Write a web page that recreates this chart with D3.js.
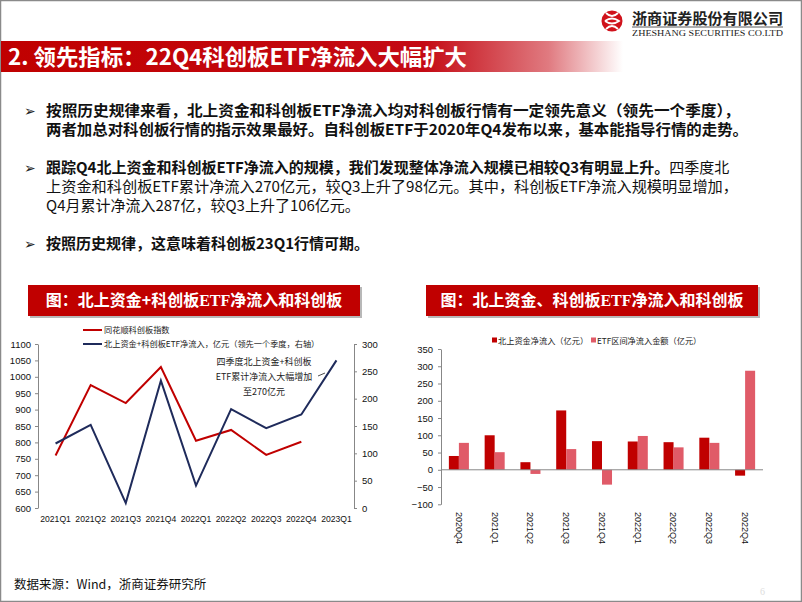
<!DOCTYPE html>
<html><head><meta charset="utf-8">
<script src="https://cdn.jsdelivr.net/npm/d3@7"></script>
<style>body{margin:0;background:#fff} svg{display:block}</style>
</head><body>
<svg id="s" width="802" height="602"></svg>
<script>
// ---------- data ----------
const leftCategories = ["2021Q1","2021Q2","2021Q3","2021Q4","2022Q1","2022Q2","2022Q3","2022Q4","2023Q1"];
const indexValues = [760, 975, 920, 1030, 805, 838, 762, 802];          // 同花顺科创板指数 (left axis)
const flowValues  = [118, 152, 9, 233, 41, 181, 146, 171, 270];         // 北上资金+科创板ETF净流入 (right axis, lead 1Q)
const leftTicks  = [600,650,700,750,800,850,900,950,1000,1050,1100];
const rightTicks = [0,50,100,150,200,250,300];

const barCategories = ["2020Q4","2021Q1","2021Q2","2021Q3","2021Q4","2022Q1","2022Q2","2022Q3","2022Q4"];
const northbound = [40, 100, 22, 172, 83, 82, 80, 93, -17];            // 北上资金净流入（亿元）
const etfFlow    = [78, 51, -12, 60, -43, 98, 65, 78, 287];             // ETF区间净流入金额（亿元）
const barTicks = [-100,-50,0,50,100,150,200,250,300,350];

const CJK = "'Noto Sans CJK SC','Noto Sans',sans-serif";
const ARIAL = "'Liberation Sans',Arial,sans-serif";
const SERIF = "'Liberation Serif','DejaVu Serif',serif";
const RED = "#C00000", NAVY = "#1F2B5B", PINK = "#E05B68", GRAY = "#878787";

const svg = d3.select("#s");

// frame
svg.append("rect").attr("x",0.5).attr("y",0.5).attr("width",801).attr("height",601)
  .attr("fill","#fff").attr("stroke","#8a8a8a").attr("stroke-width",1.5);

// ---------- header ----------
const defs = svg.append("defs");
const g1 = defs.append("linearGradient").attr("id","tbar").attr("x1","0").attr("x2","1").attr("y1","0").attr("y2","0");
g1.append("stop").attr("offset","0%").attr("stop-color","#C00000");
g1.append("stop").attr("offset","68%").attr("stop-color","#C40A14");
g1.append("stop").attr("offset","88%").attr("stop-color","#E07A80");
g1.append("stop").attr("offset","100%").attr("stop-color","#ffffff");
svg.append("rect").attr("x",1).attr("y",41).attr("width",622).attr("height",31).attr("fill","url(#tbar)");
svg.append("text").attr("x",8).attr("y",64.5).attr("fill","#fff")
  .attr("font-family",CJK).attr("font-weight","bold").attr("font-size",22)
  .attr("textLength",459).attr("lengthAdjust","spacingAndGlyphs")
  .text("2. 领先指标：22Q4科创板ETF净流入大幅扩大");

// logo
svg.append("circle").attr("cx",612).attr("cy",21).attr("r",10.5).attr("fill","#D0121B");
svg.append("path").attr("d","M606,13 Q612,19 618,13 M606,29 Q612,23 618,29 M605,21 Q612,16 619,21 Q612,26 605,21")
  .attr("fill","none").attr("stroke","#fff").attr("stroke-width",1.8);
svg.append("text").attr("x",632).attr("y",24).attr("font-family",CJK).attr("font-weight","bold")
  .attr("font-size",15).attr("fill","#222").attr("textLength",151).attr("lengthAdjust","spacingAndGlyphs")
  .text("浙商证券股份有限公司");
svg.append("line").attr("x1",632).attr("x2",783).attr("y1",27).attr("y2",27).attr("stroke","#333").attr("stroke-width",0.8);
svg.append("text").attr("x",632).attr("y",36).attr("font-family",SERIF).attr("font-size",7.5)
  .attr("fill","#222").attr("textLength",151).attr("lengthAdjust","spacingAndGlyphs")
  .text("ZHESHANG SECURITIES CO.LTD");

// ---------- body text ----------
const rows = [
  {y:116, parts:[["按照历史规律来看，北上资金和科创板ETF净流入均对科创板行情有一定领先意义（领先一个季度），","bold"]], bullet:true, len:694},
  {y:135, parts:[["两者加总对科创板行情的指示效果最好。自科创板ETF于2020年Q4发布以来，基本能指导行情的走势。","bold"]], len:702},
  {y:173, parts:[["跟踪Q4北上资金和科创板ETF净流入的规模，我们发现整体净流入规模已相较Q3有明显上升。","bold"],["四季度北","normal"]], bullet:true},
  {y:192, parts:[["上资金和科创板ETF累计净流入270亿元，较Q3上升了98亿元。其中，科创板ETF净流入规模明显增加，","normal"]], len:692},
  {y:211, parts:[["Q4月累计净流入287亿，较Q3上升了106亿元。","normal"]]},
  {y:249, parts:[["按照历史规律，这意味着科创板23Q1行情可期。","bold"]], bullet:true}
];
rows.forEach(r => {
  if (r.bullet) svg.append("text").attr("x",24).attr("y",r.y).attr("font-family","'DejaVu Sans',sans-serif")
      .attr("font-size",14).attr("fill","#222").text("➢");
  const t = svg.append("text").attr("x",46).attr("y",r.y).attr("font-family",CJK).attr("font-size",15).attr("fill","#111");
  if (r.len) t.attr("textLength",r.len).attr("lengthAdjust","spacingAndGlyphs");
  r.parts.forEach(p => t.append("tspan").attr("font-weight",p[1]).text(p[0]));
});

// ---------- sub-chart title boxes ----------
function titleBox(x, w, label) {
  svg.append("rect").attr("x",x+2).attr("y",287).attr("width",w).attr("height",31).attr("fill","#b8b8b8");
  svg.append("rect").attr("x",x).attr("y",285).attr("width",w).attr("height",31).attr("fill","#C00000");
  const t = svg.append("text").attr("x",x+w/2).attr("y",306).attr("text-anchor","middle").attr("fill","#fff")
    .attr("font-family",CJK).attr("font-weight","bold").attr("font-size",16);
  const i = label.indexOf("ETF");
  t.append("tspan").text(label.slice(0,i));
  t.append("tspan").attr("font-family",SERIF).text("ETF");
  t.append("tspan").text(label.slice(i+3));
}
titleBox(28, 332, "图：北上资金+科创板ETF净流入和科创板");
titleBox(426, 332, "图：北上资金、科创板ETF净流入和科创板");

// ---------- left chart ----------
const xL = d3.scaleBand().domain(leftCategories).range([38,354]);
const yL = d3.scaleLinear().domain([600,1100]).range([508,344]);
const yR = d3.scaleLinear().domain([0,300]).range([508,344]);
const cx = d => xL(d) + xL.bandwidth()/2;
const fmt = d3.format("d");

function styleAxis(sel, fs) {
  sel.selectAll("path.domain").attr("stroke",GRAY);
  sel.selectAll(".tick line").attr("stroke",GRAY);
  sel.selectAll("text").attr("font-family",ARIAL).attr("font-size",fs).attr("fill","#111");
}
const axL = svg.append("g").attr("transform","translate(38,0)")
  .call(d3.axisLeft(yL).tickValues(leftTicks).tickFormat(fmt).tickSize(3).tickSizeOuter(0).tickPadding(4));
styleAxis(axL, 9.5);
const axR = svg.append("g").attr("transform","translate(354,0)")
  .call(d3.axisRight(yR).tickValues(rightTicks).tickFormat(fmt).tickSize(3).tickSizeOuter(0).tickPadding(5));
styleAxis(axR, 9.5);
const axB = svg.append("g").attr("transform","translate(0,508)")
  .call(d3.axisBottom(xL).tickSize(0).tickPadding(8));
axB.select("path.domain").remove();
styleAxis(axB, 8.6);

const lineIdx = d3.line().x((d,i)=>cx(leftCategories[i])).y(d=>yL(d));
const lineFlow = d3.line().x((d,i)=>cx(leftCategories[i])).y(d=>yR(d));
svg.append("path").attr("d",lineIdx(indexValues)).attr("fill","none").attr("stroke",RED).attr("stroke-width",2);
svg.append("path").attr("d",lineFlow(flowValues)).attr("fill","none").attr("stroke",NAVY).attr("stroke-width",2);

// legend
const legL = [["同花顺科创板指数",RED,330],["北上资金+科创板ETF净流入，亿元（领先一个季度，右轴）",NAVY,344]];
legL.forEach(l => {
  svg.append("line").attr("x1",83).attr("x2",102).attr("y1",l[2]).attr("y2",l[2]).attr("stroke",l[1]).attr("stroke-width",2);
  svg.append("text").attr("x",104).attr("y",l[2]+3).attr("font-family",CJK).attr("font-size",8.2).attr("fill","#222").text(l[0]);
});
// annotation
[["四季度北上资金+科创板",365],["ETF累计净流入大幅增加",380],["至270亿元",395]].forEach(a => {
  svg.append("text").attr("x",264).attr("y",a[1]).attr("text-anchor","middle").attr("font-family",CJK)
    .attr("font-size",9).attr("fill","#222").text(a[0]);
});
svg.append("line").attr("x1",318).attr("y1",376).attr("x2",325).attr("y2",373).attr("stroke","#222").attr("stroke-width",0.8);

// ---------- right chart ----------
const x0 = d3.scaleBand().domain(barCategories).range([441,763]).paddingInner(0.44).paddingOuter(0.22);
const x1 = d3.scaleBand().domain(["nb","etf"]).range([0,x0.bandwidth()]);
const yB = d3.scaleLinear().domain([-100,350]).range([504.3,349]);

const seriesB = [["nb",northbound,RED],["etf",etfFlow,PINK]];
seriesB.forEach(s => {
  svg.append("g").selectAll("rect").data(s[1]).join("rect")
    .attr("x",(d,i)=>x0(barCategories[i]) + x1(s[0]))
    .attr("width",x1.bandwidth())
    .attr("y",d=>yB(Math.max(0,d)))
    .attr("height",d=>Math.abs(yB(d)-yB(0)))
    .attr("fill",s[2]);
});
const ayB = svg.append("g").attr("transform","translate(441,0)")
  .call(d3.axisLeft(yB).tickValues(barTicks).tickFormat(fmt).tickSize(3).tickSizeOuter(0).tickPadding(5));
styleAxis(ayB, 9.5);
svg.append("line").attr("x1",441).attr("x2",763).attr("y1",yB(0)).attr("y2",yB(0)).attr("stroke",GRAY);
const axB2 = svg.append("g").attr("transform","translate(0,504)")
  .call(d3.axisBottom(x0).tickSize(0));
axB2.select("path.domain").remove();
styleAxis(axB2, 9);
axB2.selectAll("text").attr("transform","rotate(90)").attr("text-anchor","start")
  .attr("x",8).attr("y",0).attr("dy","0.35em");

// legend right
[["北上资金净流入（亿元）",RED,492],["ETF区间净流入金额（亿元）",PINK,591]].forEach(l => {
  svg.append("rect").attr("x",l[2]).attr("y",337.5).attr("width",5).attr("height",5).attr("fill",l[1]);
  svg.append("text").attr("x",l[2]+6).attr("y",343.5).attr("font-family",CJK).attr("font-size",8.2).attr("fill","#222").text(l[0]);
});

// ---------- footer ----------
svg.append("text").attr("x",14).attr("y",589).attr("font-family",CJK).attr("font-size",12.5).attr("fill","#111")
  .text("数据来源：Wind，浙商证券研究所");
svg.append("text").attr("x",760).attr("y",595).attr("font-family",SERIF).attr("font-size",10).attr("fill","#ddd").text("6");
</script>
</body></html>
